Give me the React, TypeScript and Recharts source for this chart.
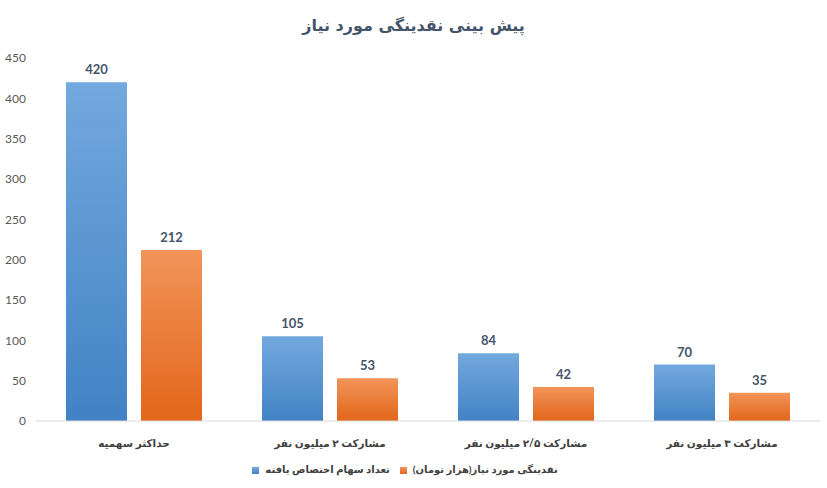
import React from "react";
import {
  BarChart,
  Bar,
  XAxis,
  YAxis,
  Legend,
  LabelList,
} from "recharts";

// دسته‌ها و مقادیر
const categories = [
  "حداکثر سهمیه",
  "مشارکت ۲ میلیون نفر",
  "مشارکت ۲/۵ میلیون نفر",
  "مشارکت ۳ میلیون نفر",
];
const shares = [420, 105, 84, 70];
const liquidity = [212, 53, 42, 35];
const yTicks = [0, 50, 100, 150, 200, 250, 300, 350, 400, 450];

const SHARES_NAME = "تعداد سهام اختصاص یافته";
const LIQUIDITY_NAME = "نقدینگی مورد نیاز(هزار تومان)";

const chartData = categories.map((name, i) => ({
  name,
  shares: shares[i],
  liquidity: liquidity[i],
}));

const persianFont = "Lato, 'DejaVu Sans', sans-serif";

const labelStyle = {
  fontFamily: "Lato, sans-serif",
  fontWeight: "bold",
  fontSize: 13,
  fill: "#44546A",
};

export default function App() {
  return (
    <div
      style={{
        position: "absolute",
        left: 0,
        top: 0,
        width: 827,
        height: 488,
        background: "#fff",
      }}
    >
      <div
        style={{
          position: "absolute",
          left: 0,
          top: 16,
          width: 827,
          textAlign: "center",
          fontFamily: "'DejaVu Sans', sans-serif",
          fontWeight: "bold",
          fontSize: 16,
          color: "#44546A",
          direction: "rtl",
        }}
      >
        پیش بینی نقدینگی مورد نیاز
      </div>
      <BarChart
        width={827}
        height={488}
        data={chartData}
        margin={{ top: 58, right: 7, left: 0, bottom: 0 }}
        barGap={14}
      >
        <defs>
          <linearGradient id="blueGrad" x1="0" y1="0" x2="0" y2="1">
            <stop offset="0%" stopColor="#72A9DE" />
            <stop offset="100%" stopColor="#4282C4" />
          </linearGradient>
          <linearGradient id="orangeGrad" x1="0" y1="0" x2="0" y2="1">
            <stop offset="0%" stopColor="#F29459" />
            <stop offset="100%" stopColor="#E2661A" />
          </linearGradient>
        </defs>
        <XAxis
          dataKey="name"
          height={30}
          axisLine={{ stroke: "#D9D9D9" }}
          tickLine={false}
          interval={0}
          tick={{
            fontFamily: persianFont,
            fontWeight: "bold",
            fontSize: 10.5,
            fill: "#404040",
          }}
          tickMargin={13}
        />
        <YAxis
          width={36}
          domain={[0, 450]}
          ticks={yTicks}
          axisLine={false}
          tickLine={false}
          tick={{ fontFamily: "Lato, sans-serif", fontSize: 12, fill: "#595959" }}
          tickMargin={4}
        />
        <Legend
          verticalAlign="bottom"
          iconType="square"
          iconSize={7}
          wrapperStyle={{
            height: 37,
            boxSizing: "border-box",
            fontFamily: persianFont,
            fontWeight: "bold",
            fontSize: 10,
            paddingTop: 12,
          }}
          formatter={(value: string) => (
            <span style={{ color: "#404040", marginLeft: 2 }}>{value}</span>
          )}
        />
        <Bar
          dataKey="shares"
          name={SHARES_NAME}
          fill="url(#blueGrad)"
          barSize={61}
          isAnimationActive={false}
        >
          <LabelList
            dataKey="shares"
            position="top"
            offset={8}
            style={labelStyle}
          />
        </Bar>
        <Bar
          dataKey="liquidity"
          name={LIQUIDITY_NAME}
          fill="url(#orangeGrad)"
          barSize={61}
          isAnimationActive={false}
        >
          <LabelList
            dataKey="liquidity"
            position="top"
            offset={8}
            style={labelStyle}
          />
        </Bar>
      </BarChart>
    </div>
  );
}
